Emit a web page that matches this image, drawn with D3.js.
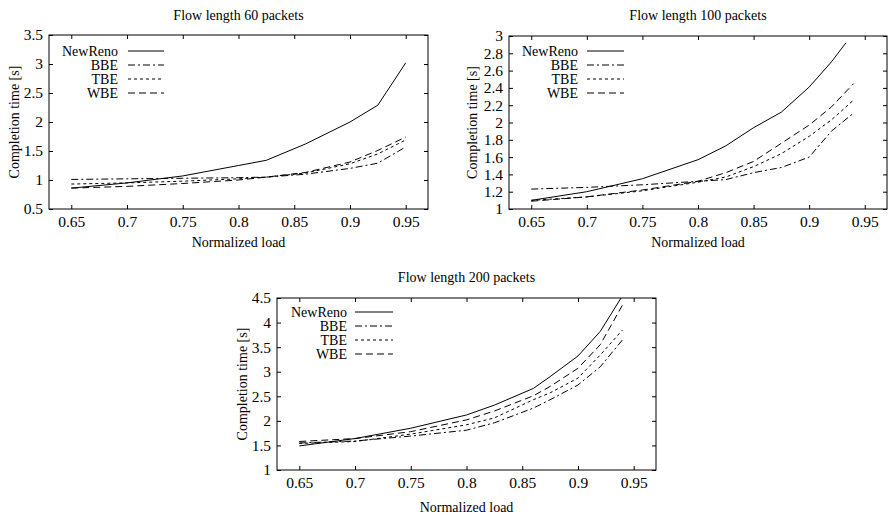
<!DOCTYPE html>
<html>
<head>
<meta charset="utf-8">
<script src="https://cdn.jsdelivr.net/npm/d3@7"></script>
<style>
  body { margin: 0; background: #fff; }
  svg text { font-family: "Liberation Serif", "DejaVu Serif", serif; fill: #000; }
</style>
</head>
<body>
<div id="chart"></div>
<script>
// Completion time vs normalized load, three flow lengths

// series names (legend order)
var seriesNames = ["NewReno", "BBE", "TBE", "WBE"];

// x tick labels (shared by all panels)
var xTicks = [0.65, 0.7, 0.75, 0.8, 0.85, 0.9, 0.95];

// Flow length 60 packets
var load60 = [0.65, 0.7, 0.75, 0.8, 0.825, 0.86, 0.9, 0.925, 0.95];
var newreno60 = [0.86, 0.95, 1.07, 1.25, 1.34, 1.62, 2.0, 2.29, 3.02];
var bbe60 = [1.01, 1.02, 1.03, 1.04, 1.05, 1.10, 1.20, 1.29, 1.57];
var tbe60 = [0.93, 0.95, 0.98, 1.02, 1.05, 1.12, 1.28, 1.45, 1.69];
var wbe60 = [0.86, 0.89, 0.94, 1.00, 1.05, 1.13, 1.31, 1.51, 1.74];
var yTicks60 = [0.5, 1, 1.5, 2, 2.5, 3, 3.5];

// Flow length 100 packets
var load100 = [0.65, 0.7, 0.75, 0.8, 0.825, 0.85, 0.875, 0.9, 0.92, 0.94];
var loadNewreno100 = [0.65, 0.7, 0.75, 0.8, 0.825, 0.85, 0.875, 0.9, 0.92, 0.933];
var newreno100 = [1.10, 1.20, 1.35, 1.57, 1.73, 1.94, 2.12, 2.41, 2.70, 2.92];
var bbe100 = [1.23, 1.25, 1.28, 1.32, 1.34, 1.42, 1.48, 1.60, 1.90, 2.11];
var tbe100 = [1.10, 1.14, 1.21, 1.31, 1.37, 1.49, 1.64, 1.84, 2.03, 2.26];
var wbe100 = [1.09, 1.14, 1.22, 1.32, 1.42, 1.55, 1.76, 1.97, 2.18, 2.45];
var yTicks100 = [1, 1.2, 1.4, 1.6, 1.8, 2, 2.2, 2.4, 2.6, 2.8, 3];

// Flow length 200 packets
var load200 = [0.65, 0.7, 0.75, 0.8, 0.825, 0.86, 0.875, 0.9, 0.92, 0.94];
var newreno200 = [1.49, 1.64, 1.85, 2.12, 2.32, 2.66, 2.90, 3.32, 3.82, 4.55];
var bbe200 = [1.55, 1.59, 1.69, 1.81, 1.96, 2.26, 2.43, 2.73, 3.10, 3.65];
var tbe200 = [1.54, 1.58, 1.73, 1.92, 2.06, 2.43, 2.57, 2.87, 3.34, 3.85];
var wbe200 = [1.58, 1.64, 1.78, 2.02, 2.20, 2.51, 2.70, 3.07, 3.55, 4.36];
var yTicks200 = [1, 1.5, 2, 2.5, 3, 3.5, 4, 4.5];

var dashes = {
  "NewReno": null,
  "BBE": "7,3,2,3",
  "TBE": "3,3",
  "WBE": "7,4"
};

var fontSize = 14;
var tickFontSize = 15.5;

var svg = d3.select("#chart")
  .append("svg")
  .attr("width", 889)
  .attr("height", 517);

// panel layout (pixel boxes)
var panels = [
  {
    id: "p60", title: "Flow length 60 packets",
    left: 49, right: 428, top: 35, bottom: 209,
    yDomain: [0.5, 3.5], yTicks: yTicks60,
    series: [[load60, newreno60], [load60, bbe60], [load60, tbe60], [load60, wbe60]],
    legend: { textX: 118, x1: 128, x2: 164, y: 51 },
    titleY: 15, xLabelY: 242, yLabelX: 14
  },
  {
    id: "p100", title: "Flow length 100 packets",
    left: 509, right: 887, top: 36, bottom: 209,
    yDomain: [1, 3], yTicks: yTicks100,
    series: [[loadNewreno100, newreno100], [load100, bbe100], [load100, tbe100], [load100, wbe100]],
    legend: { textX: 578, x1: 587, x2: 624, y: 51 },
    titleY: 15, xLabelY: 242, yLabelX: 472
  },
  {
    id: "p200", title: "Flow length 200 packets",
    left: 277, right: 656, top: 298, bottom: 470,
    yDomain: [1, 4.5], yTicks: yTicks200,
    series: [[load200, newreno200], [load200, bbe200], [load200, tbe200], [load200, wbe200]],
    legend: { textX: 347, x1: 355, x2: 393, y: 312 },
    titleY: 277, xLabelY: 507, yLabelX: 242
  }
];

panels.forEach(drawPanel);

function drawPanel(p) {

  var w = p.right - p.left;
  var h = p.bottom - p.top;

  var x = d3.scaleLinear().domain([0.63, 0.97]).range([0, w]);
  var y = d3.scaleLinear().domain(p.yDomain).range([h, 0]);

  var g = svg.append("g")
    .attr("transform", "translate(" + p.left + "," + p.top + ")");

  // clip so lines stay inside the frame
  svg.append("clipPath")
    .attr("id", "clip_" + p.id)
    .append("rect")
    .attr("width", w)
    .attr("height", h);

  var fmt = function(d) { return String(d); };

  // axes - gnuplot style ticks point inward, mirrored on top/right
  g.append("g")
    .attr("transform", "translate(0," + h + ")")
    .call(d3.axisBottom(x).tickValues(xTicks).tickFormat(fmt).tickSize(-4).tickPadding(7));

  g.append("g")
    .call(d3.axisLeft(y).tickValues(p.yTicks).tickFormat(fmt).tickSize(-4).tickPadding(6));

  g.append("g")
    .call(d3.axisTop(x).tickValues(xTicks).tickFormat("").tickSize(-4));

  g.append("g")
    .attr("transform", "translate(" + w + ",0)")
    .call(d3.axisRight(y).tickValues(p.yTicks).tickFormat("").tickSize(-4));

  g.selectAll(".domain").remove();
  g.selectAll(".tick line").attr("stroke", "#000");
  g.selectAll(".tick text")
    .style("font-size", tickFontSize + "px")
    .style("font-family", "'Liberation Serif', serif");

  // frame
  g.append("rect")
    .attr("width", w)
    .attr("height", h)
    .attr("fill", "none")
    .attr("stroke", "#000")
    .attr("stroke-width", 1);

  // lines
  var line = d3.line()
    .x(function(d) { return x(d[0]); })
    .y(function(d) { return y(d[1]); });

  var plot = g.append("g").attr("clip-path", "url(#clip_" + p.id + ")");

  p.series.forEach(function(s, i) {
    var pts = s[0].map(function(v, j) { return [v, s[1][j]]; });
    plot.append("path")
      .datum(pts)
      .attr("fill", "none")
      .attr("stroke", "#000")
      .attr("stroke-width", 1)
      .attr("stroke-dasharray", dashes[seriesNames[i]])
      .attr("d", line);
  });

  // legend
  seriesNames.forEach(function(name, i) {
    var ly = p.legend.y + i * 14;
    svg.append("text")
      .attr("x", p.legend.textX)
      .attr("y", ly)
      .attr("dy", "0.35em")
      .attr("text-anchor", "end")
      .style("font-size", fontSize + "px")
      .text(name);
    svg.append("line")
      .attr("x1", p.legend.x1)
      .attr("x2", p.legend.x2)
      .attr("y1", ly)
      .attr("y2", ly)
      .attr("stroke", "#000")
      .attr("stroke-width", 1)
      .attr("stroke-dasharray", dashes[name]);
  });

  // title
  svg.append("text")
    .attr("x", (p.left + p.right) / 2)
    .attr("y", p.titleY)
    .attr("dy", "0.35em")
    .attr("text-anchor", "middle")
    .style("font-size", fontSize + "px")
    .text(p.title);

  // x label
  svg.append("text")
    .attr("x", (p.left + p.right) / 2)
    .attr("y", p.xLabelY)
    .attr("dy", "0.35em")
    .attr("text-anchor", "middle")
    .style("font-size", fontSize + "px")
    .text("Normalized load");

  // y label
  svg.append("text")
    .attr("transform", "translate(" + p.yLabelX + "," + ((p.top + p.bottom) / 2) + ") rotate(-90)")
    .attr("dy", "0.35em")
    .attr("text-anchor", "middle")
    .style("font-size", fontSize + "px")
    .text("Completion time [s]");
}
</script>
</body>
</html>
